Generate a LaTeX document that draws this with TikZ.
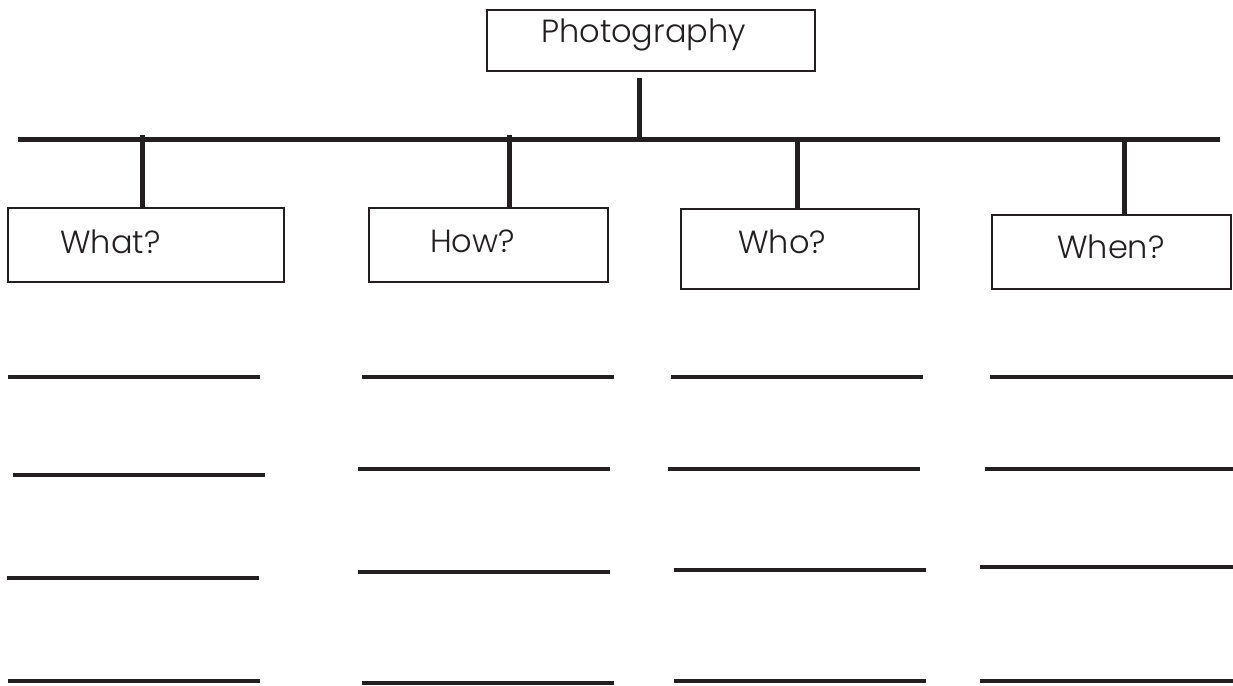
\documentclass[tikz,border=0pt]{standalone}
\usepackage{fontspec}
\IfFontExistsTF{Poppins Light}{\setmainfont{Poppins Light}}{\setmainfont{Poppins}}
\definecolor{ink}{HTML}{231F20}
\tikzset{
	qbox/.style={draw=ink, line width=2.5pt, inner sep=0pt, rectangle},
	qlabel/.style={inner sep=0pt, anchor=base west, text=ink, font=\fontsize{32}{38}\selectfont},
	stem/.style={draw=ink, line width=5pt},
	blank/.style={draw=ink, line width=3.5pt}
}
\begin{document}
\begin{tikzpicture}[x=1pt,y=-1pt]
		\useasboundingbox (0,0) rectangle (1233,685);
		% title
		\node[qbox, minimum width=328pt, minimum height=61pt] (photo) at (651,40.5) {};
		\node[qlabel] (phototxt) at (541,42) {Photography};
		% question boxes
		\node[qbox, minimum width=276pt, minimum height=74pt] (what) at (146,245) {};
		\node[qlabel] (whattxt) at (60,253) {What?};
		\node[qbox, minimum width=239pt, minimum height=74pt] (how) at (488.5,245) {};
		\node[qlabel] (howtxt) at (430,252) {How?};
		\node[qbox, minimum width=238pt, minimum height=80pt] (who) at (800,249) {};
		\node[qlabel] (whotxt) at (738,253) {Who?};
		\node[qbox, minimum width=239pt, minimum height=74pt] (when) at (1111.5,252) {};
		\node[qlabel] (whentxt) at (1057,258) {When?};
		% bar and stems
		\coordinate (barL) at (18,139);
		\coordinate (barR) at (1220,139);
		\draw[stem] (barL) -- (barR);
		\coordinate (s0) at (639,78);
		\draw[stem] (s0) -- (s0 |- barL);
		\coordinate (s1) at (142,135);
		\draw[stem] (s1) -- (s1 |- what.north);
		\coordinate (s2) at (509,135);
		\draw[stem] (s2) -- (s2 |- how.north);
		\coordinate (s3) at (797,137);
		\draw[stem] (s3) -- (s3 |- who.north);
		\coordinate (s4) at (1124,142);
		\draw[stem] (s4) -- (s4 |- when.north);
		% writing lines
		\foreach \xa/\xb/\yy in {8/260/377, 13/265/475, 7/259/578, 8/260/681,
				362/614/377, 358/610/469, 358/610/572, 362/614/683,
				671/923/377, 668/920/469, 674/926/570, 674/926/681,
				990/1233/377, 985/1233/469, 980/1233/567, 980/1233/681}
			\draw[blank] (\xa,\yy) -- (\xb,\yy);
\end{tikzpicture}
\end{document}
